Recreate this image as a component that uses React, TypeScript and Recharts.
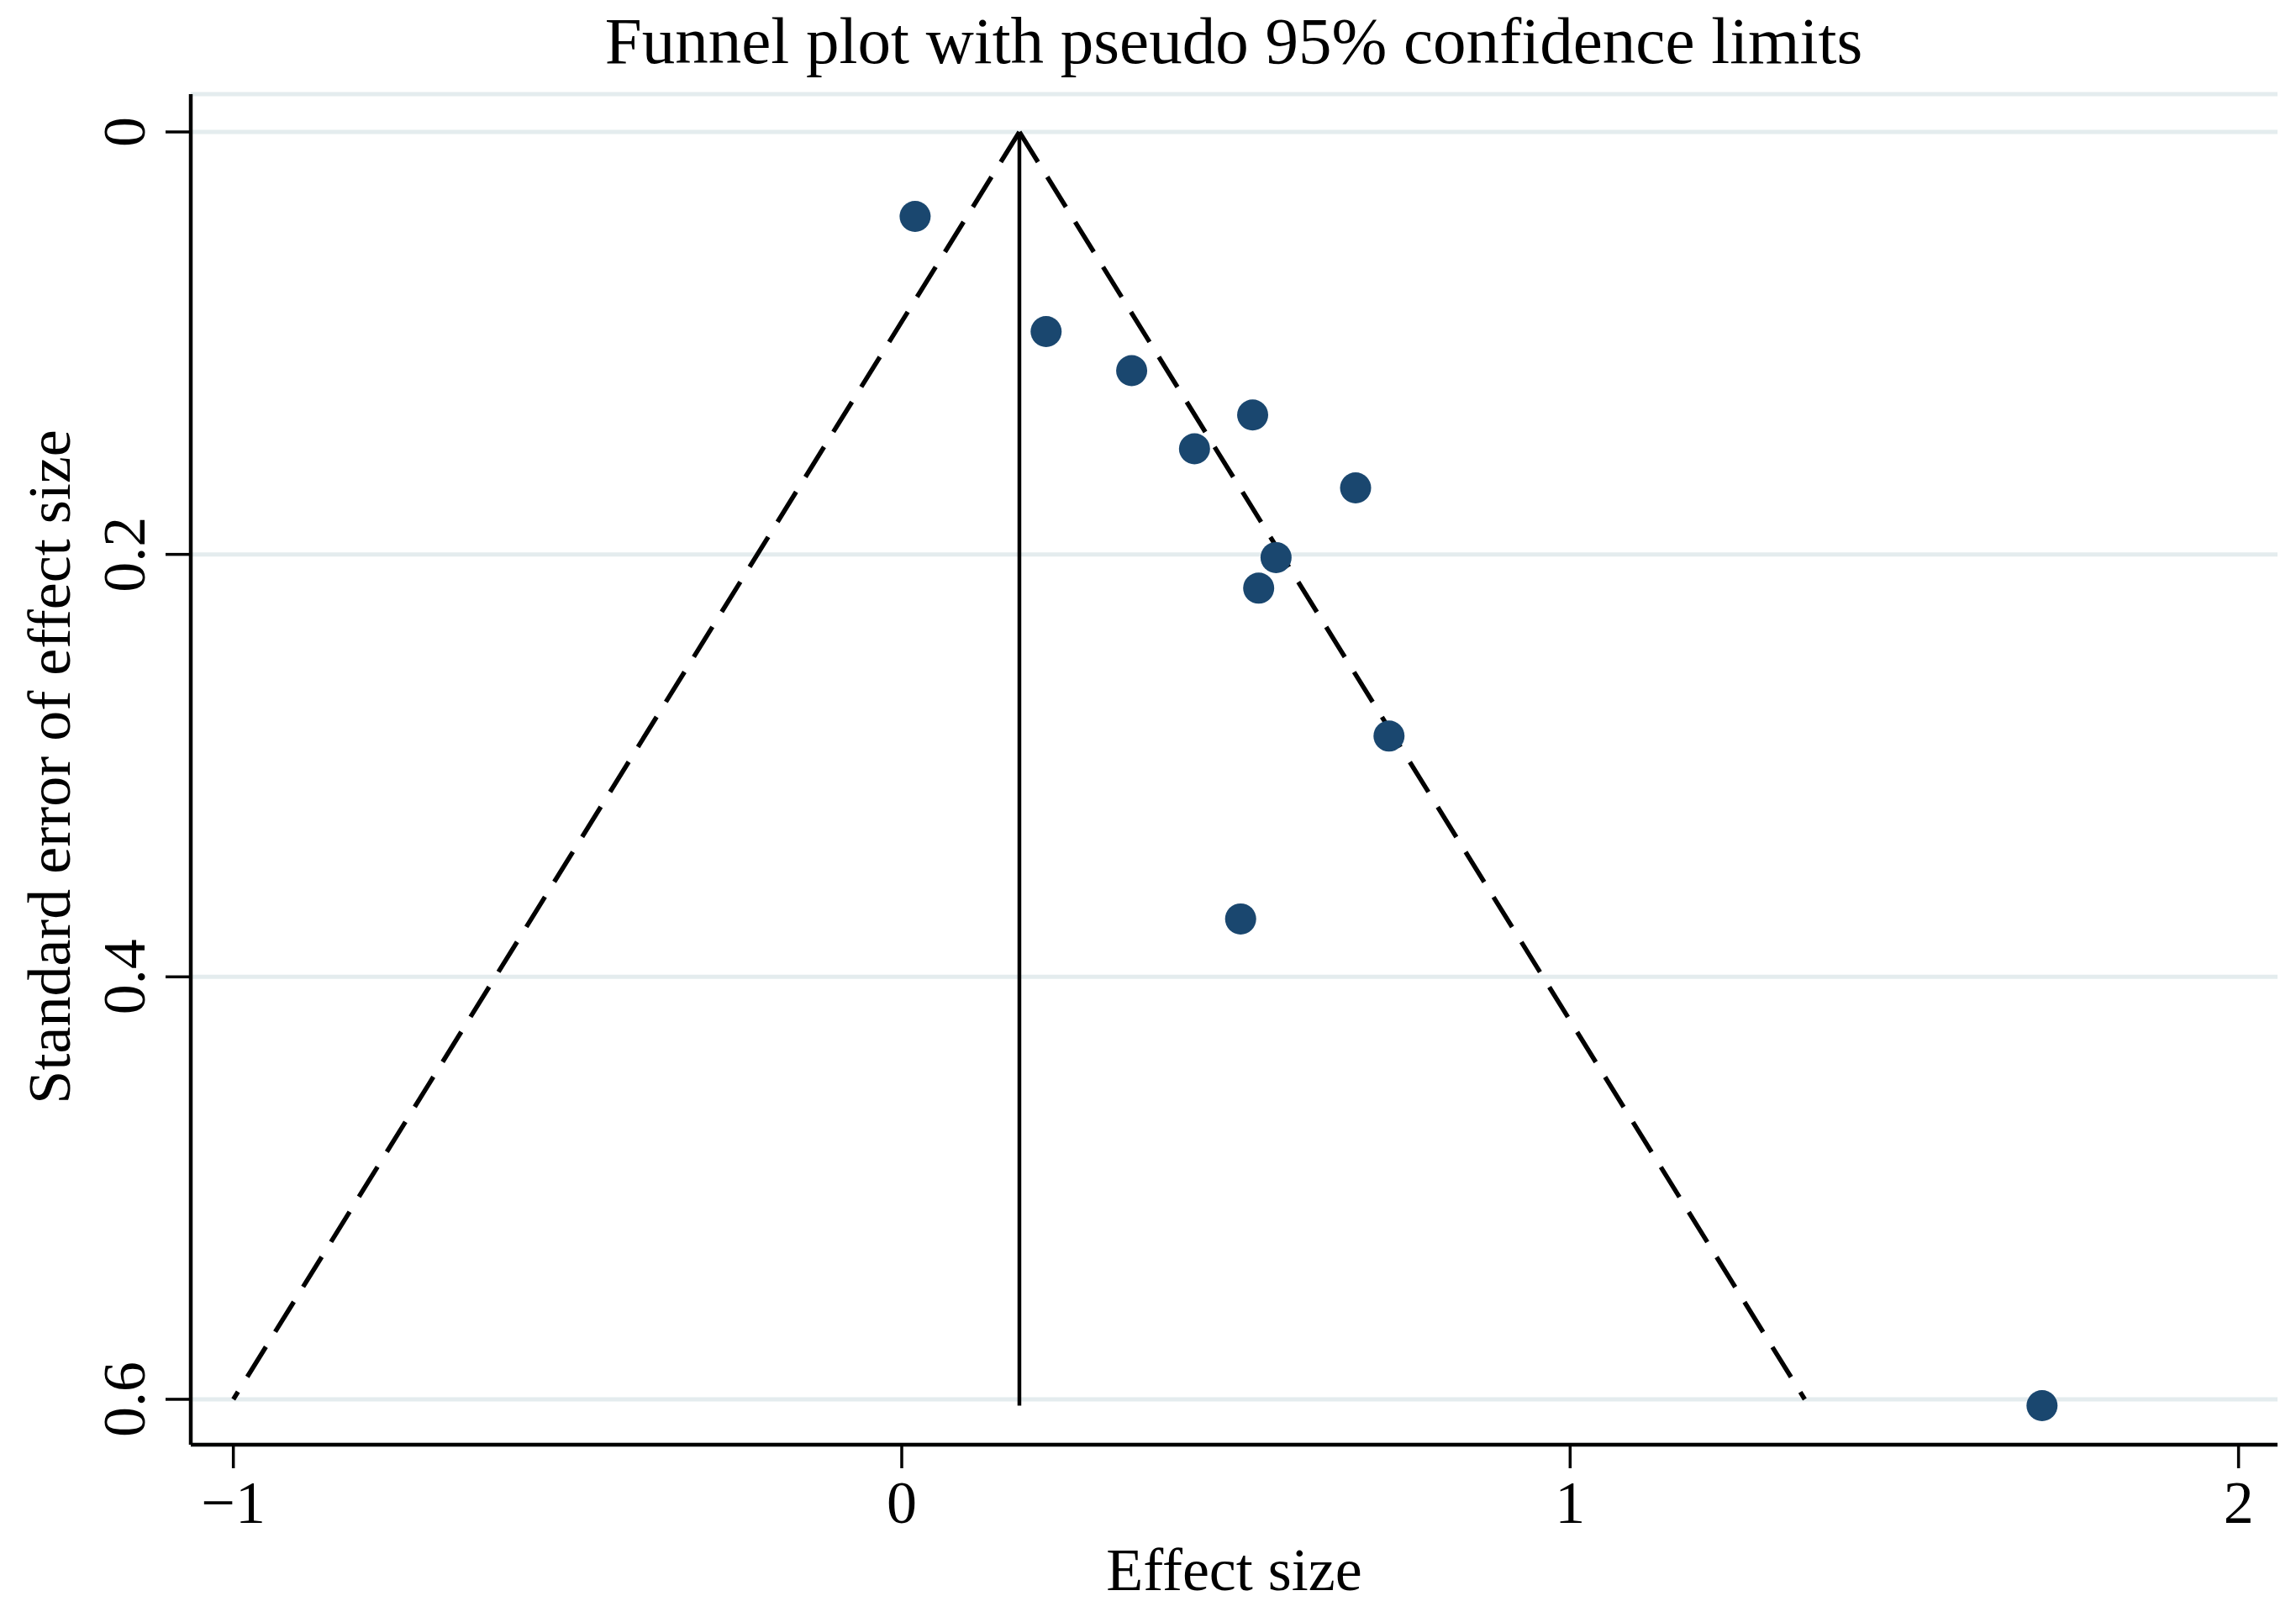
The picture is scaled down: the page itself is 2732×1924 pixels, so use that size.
import { ScatterChart, Scatter, XAxis, YAxis, CartesianGrid, ReferenceLine } from 'recharts';

// study estimates
const effectSize = [0.02, 0.216, 0.344, 0.525, 0.438, 0.679, 0.56, 0.534, 0.729, 0.507, 1.706];
const stdError = [0.04, 0.0945, 0.113, 0.134, 0.15, 0.1685, 0.2015, 0.216, 0.286, 0.3726, 0.603];

const xTicks = [-1, 0, 1, 2];
const yTicks = [0, 0.2, 0.4, 0.6];

// pooled estimate and the pseudo 95% limits at the widest point
const pooledEffect = 0.176;
const limitEnds = [-1.0, 1.351];
const limitBottomSe = 0.6;
const pooledBottomSe = 0.603;

const studies = effectSize.map((x, i) => ({ x, y: stdError[i] }));

const FONT = '"Liberation Serif", "Times New Roman", serif';
const NAVY = '#1a476f';

const fmtX = (v: number) => (v < 0 ? '\u2212' + Math.abs(v) : String(v));

const XTick = ({ x, y, payload }: any) => (
  <text x={x} y={y} textAnchor="middle" fontFamily={FONT} fontSize={72} fill="#000">
    {fmtX(payload.value)}
  </text>
);

const YTick = ({ x, y, payload }: any) => (
  <text
    x={x}
    y={y}
    transform={`rotate(-90, ${x}, ${y})`}
    textAnchor="middle"
    fontFamily={FONT}
    fontSize={72}
    fill="#000"
  >
    {String(payload.value)}
  </text>
);

const xTitle = (props: any) => {
  const vb = props.viewBox || { x: 219, y: 1711, width: 2483, height: 197 };
  return (
    <text x={vb.x + vb.width / 2} y={vb.y + 173} textAnchor="middle" fontFamily={FONT} fontSize={72} fill="#000">
      Effect size
    </text>
  );
};

const yTitle = (props: any) => {
  const vb = props.viewBox || { x: 0, y: 104, width: 219, height: 1607 };
  const cx = 75;
  const cy = vb.y + vb.height / 2 - 3;
  return (
    <text
      x={cx}
      y={cy}
      transform={`rotate(-90, ${cx}, ${cy})`}
      textAnchor="middle"
      fontFamily={FONT}
      fontSize={72}
      fill="#000"
    >
      Standard error of effect size
    </text>
  );
};

const Dot = (props: any) => <circle cx={props.cx} cy={props.cy} r={18.5} fill={NAVY} />;

export default function App() {
  return (
    <div style={{ position: 'relative', width: 2716, height: 1908, fontFamily: FONT, background: '#fff' }}>
      <div
        style={{
          position: 'absolute',
          left: 1460,
          top: 1,
          transform: 'translateX(-50%)',
          whiteSpace: 'nowrap',
          fontSize: 79,
          lineHeight: '79px',
          color: '#000',
        }}
      >
        Funnel plot with pseudo 95% confidence limits
      </div>
      <ScatterChart width={2716} height={1908} margin={{ top: 104, right: 14, bottom: 0, left: 0 }}>
        <CartesianGrid vertical={false} stroke="#e4ecee" strokeWidth={5} />
        <XAxis
          type="number"
          dataKey="x"
          domain={[-1.0637, 2.0583]}
          ticks={xTicks}
          allowDataOverflow
          height={197}
          tickSize={28}
          tickMargin={65}
          tick={<XTick />}
          axisLine={{ stroke: '#000', strokeWidth: 4.5 }}
          tickLine={{ stroke: '#000', strokeWidth: 3.5 }}
          label={xTitle}
        />
        <YAxis
          type="number"
          dataKey="y"
          reversed
          domain={[-0.0179, 0.6215]}
          ticks={yTicks}
          allowDataOverflow
          width={219}
          tickSize={30}
          tickMargin={25}
          tick={<YTick />}
          axisLine={{ stroke: '#000', strokeWidth: 4.5 }}
          tickLine={{ stroke: '#000', strokeWidth: 3.5 }}
          label={yTitle}
        />
        <Scatter data={studies} shape={<Dot />} isAnimationActive={false} />
        <ReferenceLine
          segment={[{ x: pooledEffect, y: 0 }, { x: pooledEffect, y: pooledBottomSe }]}
          stroke="#000"
          strokeWidth={4.5}
        />
        {limitEnds.map((end) => (
          <ReferenceLine
            key={end}
            segment={[{ x: pooledEffect, y: 0 }, { x: end, y: limitBottomSe }]}
            stroke="#000"
            strokeWidth={5.5}
            strokeDasharray="42 21"
          />
        ))}
      </ScatterChart>
    </div>
  );
}
